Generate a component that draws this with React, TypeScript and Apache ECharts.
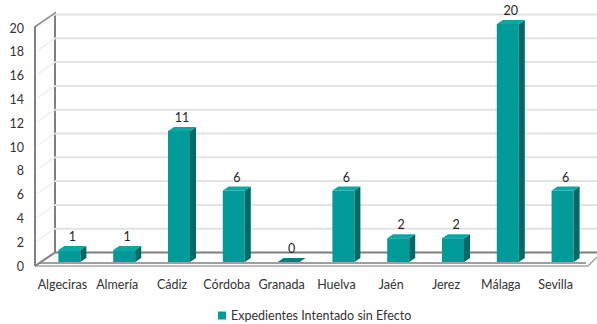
import React, { useEffect, useRef } from "react";
import * as echarts from "echarts";

const categories = ["Algeciras", "Almería", "Cádiz", "Córdoba", "Granada", "Huelva", "Jaén", "Jerez", "Málaga", "Sevilla"];
const values = [1, 1, 11, 6, 0, 6, 2, 2, 20, 6];
const yTicks = [0, 2, 4, 6, 8, 10, 12, 14, 16, 18, 20];
const seriesName = "Expedientes Intentado sin Efecto";

const FONT = "Lato, 'Open Sans', sans-serif";
const FS = 12.5;
const TEXT = "#333333";
const FRONT = "#009B98";
const SIDE = "#006A67";
const TOP = "#0AA8A4";
const DEPTH_X = 20;
const DEPTH_Y = -13.5;

export default function App() {
  const ref = useRef<HTMLDivElement>(null);
  useEffect(() => {
    if (!ref.current) return;
    const chart = echarts.init(ref.current, undefined, { renderer: "svg" });

    const frameRender = (params: any, api: any) => {
      const t = api.value(1);
      const cs = params.coordSys;
      const x0 = cs.x;
      const x1 = cs.x + cs.width;
      const p = api.coord([0, t]);
      const y = p[1];
      const children: any[] = [];
      if (t !== 0) {
        children.push({
          type: "line",
          shape: { x1: x0 + DEPTH_X, y1: y + DEPTH_Y, x2: 597, y2: y + DEPTH_Y },
          style: { stroke: "#E2E2E2", lineWidth: 2 },
        });
        children.push({
          type: "line",
          shape: { x1: x0 + 2, y1: y - 1, x2: x0 + DEPTH_X, y2: y + DEPTH_Y },
          style: { stroke: "#EFEFEF", lineWidth: 1.5 },
        });
      }
      if (t === 0) {
        const yTop = api.coord([0, 20])[1];
        const gray = "#7F7F7F";
        children.push({
          type: "polygon",
          shape: { points: [[x0, y], [x0 + DEPTH_X, y + DEPTH_Y], [597, y + DEPTH_Y], [x1 + 6, y - 2]] },
          style: { fill: "#FFFFFF" },
        });
        children.push({
          type: "line",
          shape: { x1: x0 + DEPTH_X, y1: y + DEPTH_Y, x2: 597, y2: y + DEPTH_Y },
          style: { stroke: gray, lineWidth: 2 },
        });
        children.push({
          type: "polyline",
          shape: { points: [[x0, y], [x1 + 5, y], [x1 + 14, y - 9]] },
          style: { stroke: "#A6A6A6", lineWidth: 1.5, fill: null },
        });
        children.push({
          type: "line",
          shape: { x1: x0 + 4, y1: y - 3, x2: x1 + 3, y2: y - 3 },
          style: { stroke: gray, lineWidth: 1.5 },
        });
        children.push({
          type: "polyline",
          shape: {
            points: [
              [x0, y],
              [x0, yTop - 1],
              [x0 + DEPTH_X, yTop - 1 + DEPTH_Y],
              [x0 + DEPTH_X, y + DEPTH_Y],
            ],
          },
          style: { stroke: gray, lineWidth: 2, fill: null },
        });
        children.push({
          type: "line",
          shape: { x1: x0, y1: y, x2: x0 + DEPTH_X, y2: y + DEPTH_Y },
          style: { stroke: gray, lineWidth: 2 },
        });
      }
      return { type: "group", children };
    };

    const barRender = (params: any, api: any) => {
      const i = api.value(0);
      const v = api.value(1);
      const base = api.coord([i, 0]);
      const top = api.coord([i, v]);
      const cx = base[0] + 7;
      const yb = base[1] - 4;
      const yt = top[1] - 4;
      const hw = 11;
      const sdx = 6;
      const sdy = -4;
      const xl = cx - hw;
      const xr = cx + hw;
      const children: any[] = [];
      if (yb - yt > 0.5) {
        children.push({ type: "rect", shape: { x: xl, y: yt, width: xr - xl, height: yb - yt }, style: { fill: FRONT } });
        children.push({
          type: "polygon",
          shape: { points: [[xr, yb], [xr, yt], [xr + sdx, yt + sdy], [xr + sdx, yb + sdy]] },
          style: { fill: SIDE },
        });
      }
      children.push({
        type: "polygon",
        shape: { points: [[xl, yt], [xr, yt], [xr + sdx, yt + sdy], [xl + sdx, yt + sdy]] },
        style: { fill: yb - yt > 0.5 ? TOP : "#00807D" },
      });
      children.push({
        type: "text",
        style: {
          x: cx + 3,
          y: yt + sdy - 3,
          text: String(v),
          align: "center",
          verticalAlign: "bottom",
          fill: "#262626",
          fontSize: FS,
          fontFamily: FONT,
        },
      });
      return { type: "group", children };
    };

    chart.setOption({
      animation: false,
      textStyle: { fontFamily: FONT },
      grid: { left: 35, right: 14, top: 28, bottom: 58 },
      legend: {
        data: [{ name: seriesName, icon: "rect", itemStyle: { color: FRONT } }],
        top: 304,
        left: 213,
        itemWidth: 8,
        itemHeight: 8,
        itemGap: 4,
        textStyle: { color: TEXT, fontSize: FS, fontFamily: FONT },
        selectedMode: false,
      },
      xAxis: {
        type: "category",
        data: categories,
        axisLine: { show: false },
        axisTick: { show: false },
        axisLabel: { color: TEXT, fontSize: FS, fontFamily: FONT, margin: 12, interval: 0 },
      },
      yAxis: {
        type: "value",
        min: 0,
        max: 20,
        interval: 2,
        axisLine: { show: false },
        axisTick: { show: false },
        splitLine: { show: false },
        axisLabel: { color: TEXT, fontSize: FS, fontFamily: FONT, margin: 11 },
      },
      series: [
        {
          type: "custom",
          name: "frame",
          z: 1,
          silent: true,
          renderItem: frameRender,
          data: yTicks.map((t) => [0, t]),
          encode: { x: 0, y: 1 },
        },
        {
          type: "custom",
          name: seriesName,
          z: 2,
          itemStyle: { color: FRONT },
          renderItem: barRender,
          data: values.map((v, i) => [i, v]),
          encode: { x: 0, y: 1 },
        },
      ],
    });
    return () => chart.dispose();
  }, []);
  return <div ref={ref} style={{ width: 597, height: 324, position: "absolute", left: 0, top: 0 }} />;
}
